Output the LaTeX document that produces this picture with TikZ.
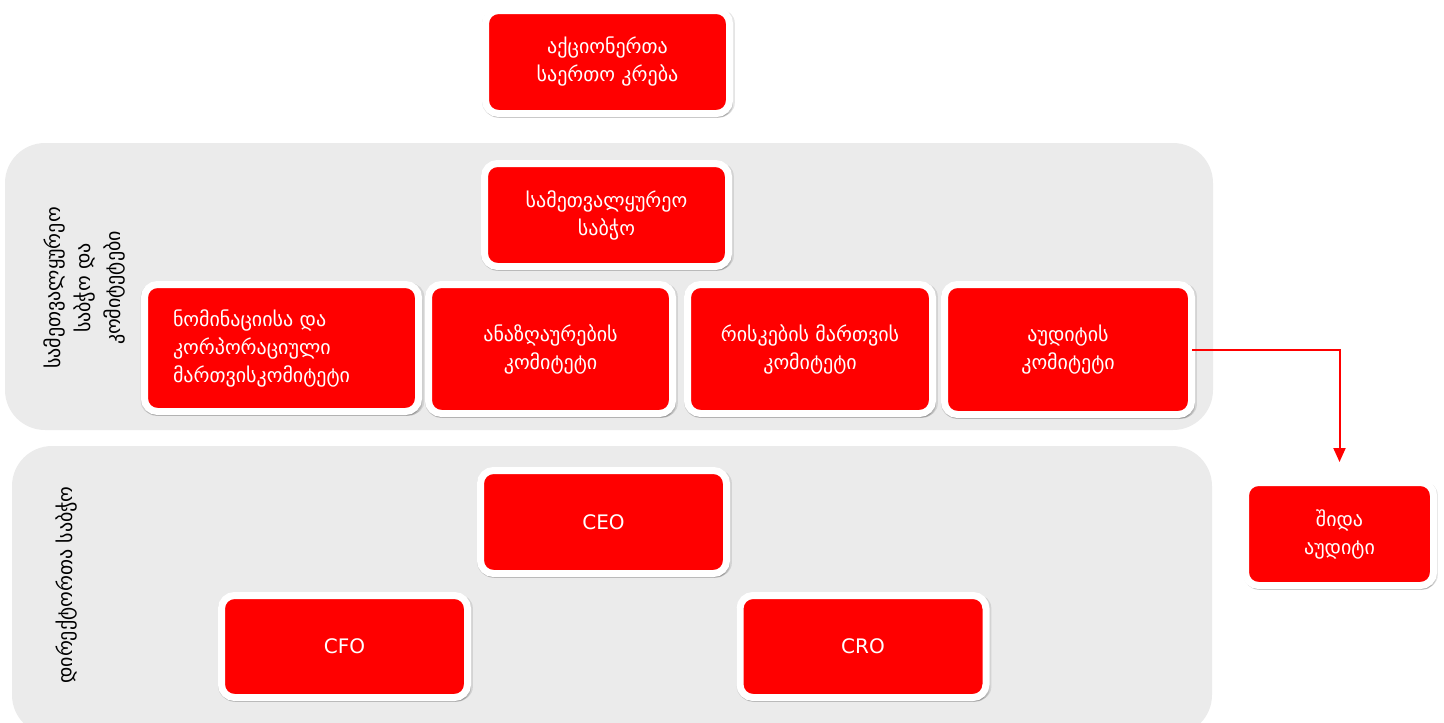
\documentclass[tikz,border=0pt]{standalone}
\usepackage{fontspec}
\setmainfont{DejaVu Sans}
\usetikzlibrary{shadows,arrows.meta}
\definecolor{boxred}{RGB}{255,0,0}
\definecolor{panelgray}{RGB}{235,235,235}
\tikzset{
  panel/.style={fill=panelgray, draw=none, rounded corners=40pt},
  softshadow/.style={
    drop shadow={shadow xshift=1pt, shadow yshift=-1pt, shadow scale=1.035, opacity=0.10, fill=black},
    drop shadow={shadow xshift=1pt, shadow yshift=-3pt, shadow scale=1.02, opacity=0.12, fill=black},
    drop shadow={shadow xshift=1pt, shadow yshift=-4pt, shadow scale=1.005, opacity=0.18, fill=black}},
  rbox/.style={draw=white, line width=7pt, fill=boxred, rounded corners=13pt,
    text=white, align=center, font=\fontsize{20}{28}\selectfont, inner sep=0pt, softshadow},
  sidelabel/.style={rotate=90, align=center, font=\fontsize{20}{30}\selectfont, text=black},
  link/.style={color=boxred, line width=2pt, -{Triangle[length=14pt,width=12pt]}}
}
\begin{document}
\begin{tikzpicture}[x=1pt,y=-1pt]
\useasboundingbox (0,0) rectangle (1444,723);
% panels
\fill[panel] (5,143) rectangle (1213,430);
\fill[panel] (12,446) rectangle (1212,735);
\node[sidelabel] (lab1) at (84,288) {სამეთვალყურეო\\საბჭო და\\კომიტეტები};
\node[sidelabel] (lab2) at (66,585) {დირექტორთა საბჭო};
% boxes
\node[rbox, minimum width=244pt, minimum height=103pt] (gm) at (607.5,62) {აქციონერთა\\საერთო კრება};
\node[rbox, minimum width=244pt, minimum height=103pt] (sb) at (606.5,215) {სამეთვალყურეო\\საბჭო};
\node[rbox, minimum width=274pt, minimum height=127pt] (nom) at (281.5,348) {\parbox{217pt}{\raggedright\baselineskip=28pt ნომინაციისა და\\კორპორაციული\\მართვისკომიტეტი}};
\node[rbox, minimum width=244pt, minimum height=129pt] (rem) at (550.5,349) {ანაზღაურების\\კომიტეტი};
\node[rbox, minimum width=245pt, minimum height=129pt] (risk) at (810,349) {რისკების მართვის\\კომიტეტი};
\node[rbox, minimum width=247pt, minimum height=130pt] (aud) at (1068,349.5) {აუდიტის\\კომიტეტი};
\node[rbox, minimum width=188pt, minimum height=103pt] (ia) at (1339.5,534) {შიდა\\აუდიტი};
\node[rbox, minimum width=246pt, minimum height=103pt] (ceo) at (603.5,522) {CEO};
\node[rbox, minimum width=246pt, minimum height=102pt] (cfo) at (344.5,646.5) {CFO};
\node[rbox, minimum width=246pt, minimum height=102pt] (cro) at (863,646.5) {CRO};
% connector
\draw[link, shorten >=17pt, shorten <=-3pt] (aud.east) -| (ia.north);
\end{tikzpicture}
\end{document}
